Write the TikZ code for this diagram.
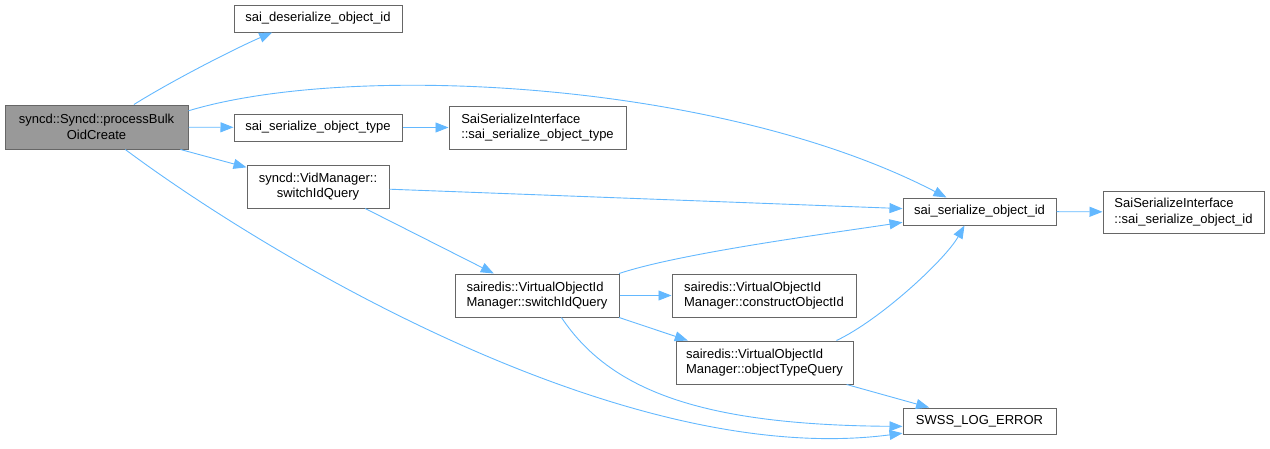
\documentclass[tikz,border=0pt]{standalone}
\usepackage{fontspec}
\setmainfont{Liberation Sans}
\usepackage{tikz}
\usepackage{xcolor}
\usetikzlibrary{arrows.meta, positioning}
\definecolor{edgeblue}{RGB}{99, 184, 255}
\definecolor{boxgray}{RGB}{102, 102, 102}
\definecolor{mainfill}{RGB}{153, 153, 153}

\begin{document}
\begin{tikzpicture}[x=1pt, y=-1pt,
    fn/.style={rectangle, draw=boxgray, fill=white, line width=1pt,
               inner sep=0pt, font=\fontsize{13}{15.5}\selectfont},
    call/.style={draw=edgeblue, line width=0.9pt,
                 -{Triangle[length=13pt, width=10pt, color=edgeblue]}}]

\useasboundingbox (0,0) rectangle (1270,448);

% Caller
\node[fn, fill=mainfill, minimum width=183, minimum height=44, align=center]
      (main) at (96.5,127) {syncd::Syncd::processBulk\\OidCreate};

% First level
\node[fn, minimum width=168, minimum height=27] (desid) at (318,18.5)
      {sai\_deserialize\_object\_id};
\node[fn, minimum width=168, minimum height=27] (sotype) at (318,127.5)
      {sai\_serialize\_object\_type};
\node[fn, minimum width=142, minimum height=43, align=center]
      (vidsw) at (318,186.5) {syncd::VidManager::\\switchIdQuery};

% Second level
\node[fn, minimum width=177, minimum height=43, align=left]
      (sitype) at (537.5,127.5)
      {SaiSerializeInterface\\::sai\_serialize\_object\_type};
\node[fn, minimum width=164, minimum height=43, align=left]
      (vosw) at (537,295.5)
      {sairedis::VirtualObjectId\\Manager::switchIdQuery};

% Third level
\node[fn, minimum width=184, minimum height=43, align=left]
      (vocons) at (764,295.5)
      {sairedis::VirtualObjectId\\Manager::constructObjectId};
\node[fn, minimum width=177, minimum height=43, align=left]
      (votype) at (764.5,362.5)
      {sairedis::VirtualObjectId\\Manager::objectTypeQuery};

% Leaves
\node[fn, minimum width=153, minimum height=27] (soid) at (979.5,211.5)
      {sai\_serialize\_object\_id};
\node[fn, minimum width=153, minimum height=26] (swss) at (979.5,421)
      {SWSS\_LOG\_ERROR};
\node[fn, minimum width=161, minimum height=42, align=left]
      (sioid) at (1183.5,212)
      {SaiSerializeInterface\\::sai\_serialize\_object\_id};

% Calls
\draw[call] (main.31) .. controls +(40,-25) and +(-35,15) .. (desid.197);
\draw[call] (main.10.5) .. controls (350,62) and (720,80) .. (soid.157);
\draw[call] (main) -- (sotype);
\draw[call] (main.-15) -- (vidsw.165);
\draw[call] (main.-38) .. controls (260,250) and (620,470) .. (swss.189);
\draw[call] (sotype) -- (sitype);
\draw[call] (vidsw) -- (soid);
\draw[call] (vidsw.-25) -- (vosw.153);
\draw[call] (vosw.15) .. controls +(60,-20) and +(-80,12) .. (soid.188.5);
\draw[call] (vosw) -- (vocons);
\draw[call] (vosw.-15) -- (votype.164);
\draw[call] (vosw.-42) .. controls (610,390) and (700,425) .. (swss.184.5);
\draw[call] (votype.17) .. controls (880,320) and (945,260) .. (soid.223);
\draw[call] (votype.-15) -- (swss.165);
\draw[call] (soid) -- (sioid);

\end{tikzpicture}
\end{document}
